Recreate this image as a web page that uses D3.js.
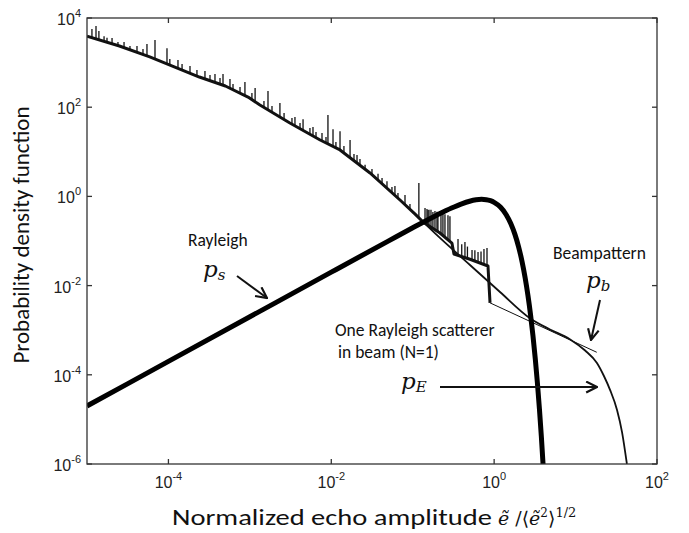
<!DOCTYPE html>
<html>
<head>
<meta charset="utf-8">
<script src="https://cdn.jsdelivr.net/npm/d3@7.9.0/dist/d3.min.js"></script>
<style>
  body { margin: 0; background: #fff; }
  svg { display: block; }
  .tick-label { font-family: 'Liberation Sans', Arial, sans-serif; font-size: 16px; fill: #222; }
  .note { font-family: Calibri, Carlito, Lato, sans-serif; font-size: 17.5px; fill: #111; }
  .axis-title { font-family: Calibri, Carlito, Lato, sans-serif; font-size: 23px; fill: #111; }
  .math { font-family: 'DejaVu Serif', serif; font-style: italic; fill: #111; }
  .sym { font-family: 'DejaVu Serif', serif; fill: #111; }
</style>
</head>
<body>
<svg id="chart" width="689" height="533"></svg>
<script>
// measured echo histogram (noisy curve)
const histX = [1e-5, 2.5e-5, 5.9e-5, 1.2e-4, 2.4e-4, 5.0e-4, 9.5e-4, 1.33e-3, 3.1e-3, 7.3e-3,
  1.28e-2, 2.99e-2, 6.98e-2, 0.107, 0.134, 0.216, 0.303, 0.321, 0.505, 0.84, 0.89];
const histY = [3.9e3, 2.36e3, 1.34e3, 796, 475, 299, 169, 112, 44.3, 18.4,
  11.0, 3.35, 0.83, 0.40, 0.267, 0.151, 0.090, 0.051, 0.039, 0.0275, 0.0041];

// single bins sticking out above the histogram
const spikeX = [1.15e-5, 1.29e-5, 1.40e-5, 1.76e-5, 2.40e-5, 3.37e-5, 5.45e-5, 6.84e-5, 9.6e-5, 1.31e-4,
  1.84e-4, 2.81e-4, 3.73e-4, 4.68e-4, 5.7e-4, 8.7e-4, 1.16e-3, 1.67e-3, 2.34e-3, 3.58e-3,
  4.50e-3, 5.96e-3, 7.69e-3, 9.1e-3, 1.05e-2, 1.28e-2, 1.70e-2, 2.07e-2, 2.60e-2, 3.75e-2,
  4.83e-2, 6.05e-2, 8.04e-2, 0.119, 0.154, 0.177, 0.204, 0.235, 0.271, 0.36,
  0.438, 0.535, 0.634, 0.75, 0.817,
  1.62e-5, 2.03e-5, 2.85e-5, 4.11e-5, 4.87e-5, 1.04e-4, 1.47e-4, 2.24e-4, 3.24e-4, 4.30e-4,
  6.21e-4, 7.57e-4, 1.06e-3, 1.49e-3, 1.87e-3, 2.63e-3, 3.29e-3, 4.13e-3, 5.47e-3, 6.49e-3,
  8.61e-3, 1.14e-2, 1.43e-2, 1.90e-2, 2.25e-2, 3.16e-2, 4.20e-2, 5.56e-2, 6.59e-2, 9.25e-2,
  0.1416, 0.1497, 0.1585, 0.1676, 0.1876, 0.1986, 0.2223, 0.2489, 0.2866, 0.40, 0.47, 0.58, 0.69];
const spikeY = [5.7e3, 6.6e3, 5.1e3, 3.6e3, 2.9e3, 2.36e3, 2.6e3, 3.2e3, 2.1e3, 1.14e3,
  840, 650, 555, 555, 429, 367, 270, 231, 124, 60,
  54, 36, 26.4, 67, 32, 29, 18.4, 8.5, 5.1, 3.2,
  2.2, 1.71, 1.08, 2.0, 0.495, 0.447, 0.447, 0.42, 0.38, 0.111,
  0.095, 0.063, 0.057, 0.066, 0.070,
  3.9e3, 3.56e3, 2.9e3, 2.36e3, 2.02e3, 1.2e3, 931, 683, 527, 452,
  331, 284, 208, 138, 106, 74, 57, 44, 34, 27.8,
  21.5, 16.6, 13.5, 8.9, 6.9, 4.1, 2.59, 1.63, 1.19, 0.676,
  0.55, 0.52, 0.50, 0.50, 0.47, 0.45, 0.42, 0.40, 0.36, 0.085, 0.075, 0.062, 0.058];

// Rayleigh pdf p_s
const rayX = [1e-5, 1e-4, 1e-3, 1e-2, 0.05, 0.1, 0.2, 0.3, 0.4, 0.5, 0.6, 0.7, 0.8, 0.9, 1.0,
  1.2, 1.4, 1.6, 1.8, 2.0, 2.2, 2.4, 2.6, 2.8, 3.0, 3.2, 3.4, 3.6, 3.8, 4.0];
const rayY = [2e-5, 2e-4, 2e-3, 0.02, 0.0995, 0.198, 0.384, 0.548, 0.682, 0.779, 0.837, 0.858, 0.843, 0.801, 0.736,
  0.569, 0.394, 0.247, 0.141, 0.0733, 0.0348, 0.0151, 6.03e-3, 2.21e-3, 7.4e-4, 2.29e-4, 6.5e-5, 1.7e-5, 4.1e-6, 9.0e-7];

// one Rayleigh scatterer in beam, p_E
const echoX = [0.107, 0.216, 0.505, 1.18, 2.75, 4.85, 8.5, 13.1, 18.3, 22.3, 26.5, 32.3, 37.2, 42.7];
const echoY = [0.40, 0.117, 0.029, 7.2e-3, 1.86e-3, 1.04e-3, 6.3e-4, 3.5e-4, 1.84e-4, 9.4e-5, 4.6e-5, 1.63e-5, 5.2e-6, 1e-6];

// beampattern p_b
const beamX = [0.89, 18.2];
const beamY = [4.1e-3, 3.2e-4];

const xTicks = [1e-4, 1e-2, 1e0, 1e2];
const yTicks = [1e-6, 1e-4, 1e-2, 1e0, 1e2, 1e4];

const width = 689;
const height = 533;
const margin = { top: 18, right: 32, bottom: 69, left: 87 };

const svg = d3.select('#chart');

let x = d3.scaleLog().domain([1e-5, 1e2]).range([margin.left, width - margin.right]);
let y = d3.scaleLog().domain([1e-6, 1e4]).range([height - margin.bottom, margin.top]);

const [x0, x1] = x.range();
const [y0, y1] = y.range();

svg.append('clipPath').attr('id', 'plot-clip')
  .append('rect')
  .attr('x', x0).attr('y', y1)
  .attr('width', x1 - x0).attr('height', y0 - y1);

svg.append('defs').append('marker')
  .attr('id', 'arrow')
  .attr('viewBox', '0 0 12 12')
  .attr('refX', 11).attr('refY', 6)
  .attr('markerWidth', 13).attr('markerHeight', 13)
  .attr('markerUnits', 'userSpaceOnUse')
  .attr('orient', 'auto')
  .append('path')
  .attr('d', 'M1,1 L11,6 L1,11')
  .attr('fill', 'none')
  .attr('stroke', '#111')
  .attr('stroke-width', 2);

let line = d3.line().x((d) => x(d[0])).y((d) => y(d[1]));
let smooth = d3.line().x((d) => x(d[0])).y((d) => y(d[1])).curve(d3.curveMonotoneX);

const plot = svg.append('g').attr('clip-path', 'url(#plot-clip)');

// beampattern (thin)
plot.append('path')
  .attr('d', line(d3.zip(beamX, beamY)))
  .attr('fill', 'none').attr('stroke', '#111').attr('stroke-width', 1);

// p_E
plot.append('path')
  .attr('d', smooth(d3.zip(echoX, echoY)))
  .attr('fill', 'none').attr('stroke', '#111').attr('stroke-width', 1.8);

// histogram
plot.append('path')
  .attr('d', line(d3.zip(histX, histY)))
  .attr('fill', 'none').attr('stroke', '#111').attr('stroke-width', 3)
  .attr('stroke-linejoin', 'round');

let baseAt = d3.scaleLinear().domain(histX.map(x)).range(histY.map(y));

plot.append('g')
  .selectAll('line')
  .data(d3.zip(spikeX, spikeY))
  .join('line')
  .attr('x1', (d) => x(d[0])).attr('x2', (d) => x(d[0]))
  .attr('y1', (d) => baseAt(x(d[0]))).attr('y2', (d) => y(d[1]))
  .attr('stroke', '#111').attr('stroke-width', 1.3);

// Rayleigh (thick)
plot.append('path')
  .attr('d', smooth(d3.zip(rayX, rayY)))
  .attr('fill', 'none').attr('stroke', '#000').attr('stroke-width', 5);

// frame + inward ticks
svg.append('rect')
  .attr('x', x0).attr('y', y1)
  .attr('width', x1 - x0).attr('height', y0 - y1)
  .attr('fill', 'none').attr('stroke', '#333').attr('stroke-width', 1.3);

const tickLen = 5;
const axes = svg.append('g').attr('stroke', '#333').attr('stroke-width', 1.3);

xTicks.forEach((d) => {
  axes.append('line').attr('x1', x(d)).attr('x2', x(d)).attr('y1', y0).attr('y2', y0 - tickLen);
  axes.append('line').attr('x1', x(d)).attr('x2', x(d)).attr('y1', y1).attr('y2', y1 + tickLen);
});
yTicks.forEach((d) => {
  axes.append('line').attr('y1', y(d)).attr('y2', y(d)).attr('x1', x0).attr('x2', x0 + tickLen);
  axes.append('line').attr('y1', y(d)).attr('y2', y(d)).attr('x1', x1).attr('x2', x1 - tickLen);
});

function powerLabel(sel, d) {
  sel.append('tspan').text('10');
  sel.append('tspan')
    .attr('dy', -8)
    .attr('font-size', 11)
    .text(Math.round(Math.log10(d)));
}

xTicks.forEach((d) => {
  svg.append('text')
    .attr('class', 'tick-label')
    .attr('x', x(d)).attr('y', y0 + 24)
    .attr('text-anchor', 'middle')
    .call(powerLabel, d);
});

yTicks.forEach((d) => {
  svg.append('text')
    .attr('class', 'tick-label')
    .attr('x', x0 - 6).attr('y', y(d) + 7)
    .attr('text-anchor', 'end')
    .call(powerLabel, d);
});

// axis titles
svg.append('text')
  .attr('class', 'axis-title')
  .attr('transform', 'translate(29,235) rotate(-90)')
  .attr('text-anchor', 'middle')
  .text('Probability density function');

svg.append('text')
  .attr('class', 'axis-title')
  .attr('font-size', 26)
  .attr('x', 172).attr('y', 525)
  .attr('textLength', 320)
  .attr('lengthAdjust', 'spacingAndGlyphs')
  .text('Normalized echo amplitude');

let xMath = svg.append('text').attr('x', 498).attr('y', 525);
xMath.append('tspan').attr('class', 'math').attr('font-size', 19).text('ẽ');
xMath.append('tspan').attr('class', 'sym').attr('font-size', 19).text(' /⟨');
xMath.append('tspan').attr('class', 'math').attr('font-size', 19).text('ẽ');
xMath.append('tspan').attr('class', 'sym').attr('font-size', 12).attr('dy', -8).text('2');
xMath.append('tspan').attr('class', 'sym').attr('font-size', 19).attr('dy', 8).text('⟩');
xMath.append('tspan').attr('class', 'sym').attr('font-size', 13).attr('dy', -8).text('1/2');

// annotations
function mathLabel(px, py, main, sub) {
  let t = svg.append('text').attr('class', 'math').attr('x', px).attr('y', py).attr('font-size', 23);
  t.append('tspan').text(main);
  t.append('tspan').attr('font-size', 15).attr('dy', 3).text(sub);
}

svg.append('text').attr('class', 'note').attr('x', 188).attr('y', 246).text('Rayleigh');
mathLabel(203, 277, 'p', 's');

svg.append('text').attr('class', 'note').attr('x', 553).attr('y', 259).text('Beampattern');
mathLabel(586, 288, 'p', 'b');

svg.append('text').attr('class', 'note').attr('x', 335).attr('y', 336).text('One Rayleigh scatterer');
svg.append('text').attr('class', 'note').attr('x', 338).attr('y', 358).text('in beam (N=1)');
mathLabel(401, 389, 'p', 'E');

const arrows = [
  [237, 276, 267, 298],
  [600, 300, 591, 340],
  [440, 387, 597, 387]
];
arrows.forEach(([ax, ay, bx, by]) => {
  svg.append('line')
    .attr('x1', ax).attr('y1', ay).attr('x2', bx).attr('y2', by)
    .attr('stroke', '#111').attr('stroke-width', 2)
    .attr('marker-end', 'url(#arrow)');
});
</script>
</body>
</html>
